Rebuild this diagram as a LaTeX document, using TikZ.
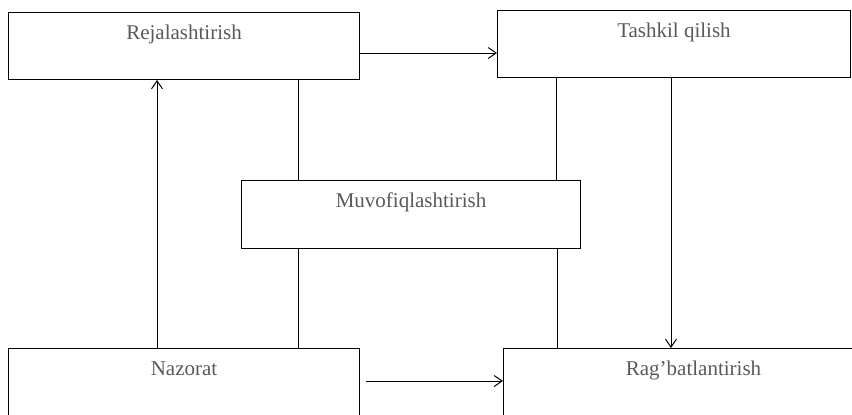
\documentclass[tikz,border=0pt]{standalone}
\usepackage{fontspec}
\setmainfont{Liberation Serif}
\usetikzlibrary{calc,arrows.meta}

\begin{document}
\begin{tikzpicture}[
		x=0.5pt,
		y=-0.5pt,
		box/.style={draw=black, anchor=north west, inner sep=0pt, line width=0.5pt,
			text height=13.5pt, text depth=#1, text=black!65,
			font=\fontsize{10.5}{12}\selectfont},
		link/.style={line width=0.5pt},
		arrow/.style={line width=0.5pt, -{Straight Barb[length=4pt,width=5.5pt]}}
	]

		% frame
		\useasboundingbox (0,0) rectangle (852,414);
		\clip (0,0) rectangle (852,414);

		% boxes
		\node[box=20pt, minimum width=175.5pt] (rej) at (8,12) {Rejalashtirish};
		\node[box=20pt, minimum width=176.5pt] (tash) at (497,10) {Tashkil qilish};
		\node[box=20.5pt, minimum width=169.5pt] (muv) at (241,180) {Muvofiqlashtirish};
		\node[box=40pt, minimum width=175.5pt] (naz) at (8,348) {Nazorat};
		\node[box=40pt, minimum width=190pt] (rag) at (503,348) {Rag'batlantirish};

		% horizontal arrows
		\draw[arrow] (rej.east |- 0,53) -- (tash.west |- 0,53);
		\draw[arrow] ($(naz.east |- 0,381) + (6,0)$) -- (rag.west |- 0,381);

		% vertical arrows
		\draw[arrow] (naz.north -| 157,0) -- (rej.south -| 157,0);
		\draw[arrow] (tash.south -| 671,0) -- (rag.north -| 671,0);

		% links through the middle box
		\draw[link] (rej.south -| 298,0) -- (muv.north -| 298,0);
		\draw[link] (muv.south -| 298,0) -- (naz.north -| 298,0);
		\draw[link] (tash.south -| 556,0) -- (muv.north -| 556,0);
		\draw[link] (muv.south -| 557,0) -- (rag.north -| 557,0);

	\end{tikzpicture}
\end{document}
